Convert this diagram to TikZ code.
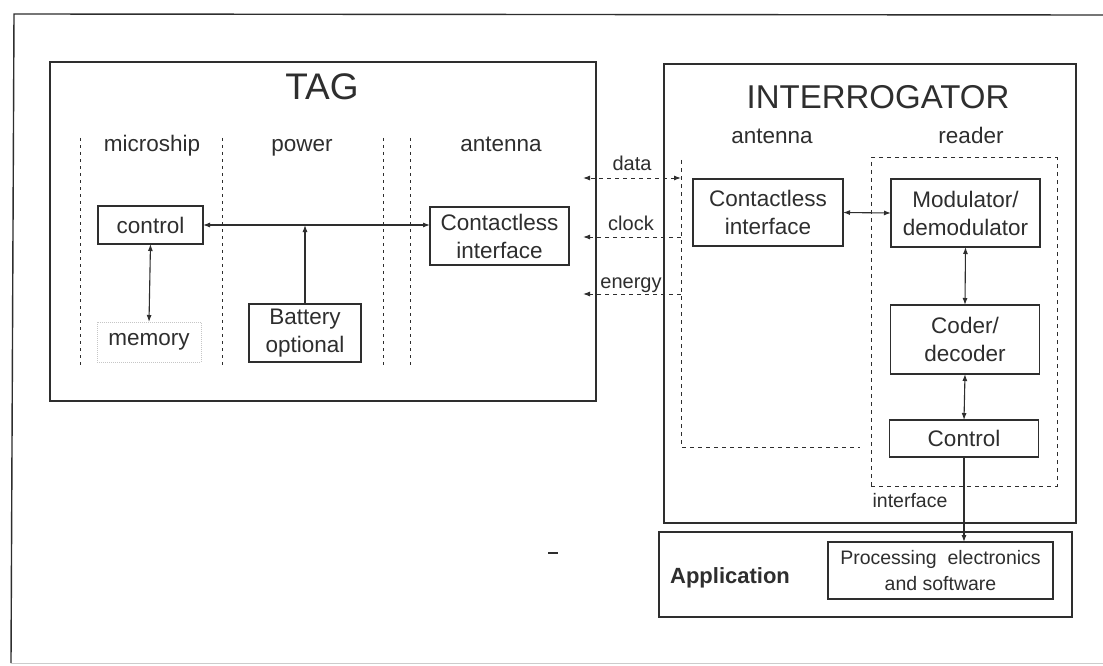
\documentclass[tikz,border=0pt]{standalone}
\usepackage{fontspec}
\setmainfont{Liberation Sans}
\usetikzlibrary{arrows.meta}
\definecolor{ink}{HTML}{2E2E2E}
\tikzset{
  frame/.style={draw=ink, line width=1.3pt, inner sep=0pt, outer sep=0pt},
  box/.style={draw=ink, line width=1.1pt, inner sep=0pt, outer sep=0pt, align=center,
    font=\fontsize{22.5}{28}\selectfont, text=ink},
  faintbox/.style={draw=gray!45, densely dotted, line width=1pt, inner sep=0pt, outer sep=0pt,
    align=center, font=\fontsize{22.5}{28}\selectfont, text=ink},
  lbl/.style={anchor=base, inner sep=0pt, text=ink, font=\fontsize{22.5}{27}\selectfont},
  small/.style={anchor=base, inner sep=0pt, text=ink, font=\fontsize{20}{24}\selectfont},
  sep/.style={draw=ink, line width=1pt, dash pattern=on 3pt off 4pt},
  dsh/.style={draw=ink, line width=1pt, dash pattern=on 4pt off 4pt},
  arr/.style={draw=ink, line width=1.1pt, -{Latex[length=7pt,width=5pt]}},
  darr/.style={draw=ink, line width=1.1pt, {Latex[length=7pt,width=5pt]}-{Latex[length=7pt,width=5pt]}},
}
\begin{document}
\begin{tikzpicture}[x=1pt,y=-1pt]
\useasboundingbox (0,0) rectangle (1103,666);
\fill[white] (0,0) rectangle (1103,666);
% outer frame
\coordinate (ftl) at (14,14);
\coordinate (ftr) at (1103,15);
\coordinate (fbl) at (11,663);
\coordinate (fbr) at (1103,663);
\draw[ink, line width=1.4pt] (fbl) -- (ftl) -- (ftr);
\draw[gray!40, line width=1pt] (fbl) -- (fbr);

% ===== TAG =====
\node[frame, minimum width=546pt, minimum height=339pt] (tag) at (323,231.5) {};
\node[anchor=base, inner sep=0pt, text=ink, font=\fontsize{37}{40}\selectfont] (tagt) at (322,100) {TAG};
\foreach \x [count=\i] in {80,222,383,410} {
  \coordinate (st\i) at (\x,138);
  \coordinate (sb\i) at (\x,367);
  \draw[sep] (st\i) -- (sb\i);
}
\node[lbl] (lmicro) at (152,151) {microship};
\node[lbl] (lpower) at (302,151) {power};
\node[lbl] (lant) at (501,151) {antenna};

\node[box, minimum width=105pt, minimum height=38pt] (control) at (150.5,225) {control};
\node[faintbox, minimum width=104pt, minimum height=40pt] (memory) at (149,342) {memory};
\node[box, minimum width=112pt, minimum height=58pt] (battery) at (305,333) {Battery\\optional};
\node[box, minimum width=139pt, minimum height=58pt] (tagci) at (499.5,236) {Contactless\\interface};

\draw[darr] (control.east) -- (control.east -| tagci.west);
\draw[arr] (battery.north) -- (battery.north |- control.east);
\draw[darr] (control.south) -- (memory.north);

% ===== INTERROGATOR =====
\node[frame, minimum width=412pt, minimum height=459pt] (intg) at (870,293.5) {};
\node[anchor=base, inner sep=0pt, text=ink, font=\fontsize{33}{36}\selectfont] (intt) at (878,109) {INTERROGATOR};
\node[lbl] (lant2) at (772,143) {antenna};
\node[lbl] (lread) at (971,143) {reader};

% antenna dashed L
\coordinate (at) at (681,160);
\coordinate (ab) at (681,447);
\coordinate (ae) at (860,447);
\draw[dsh] (at) -- (ab) -- (ae);

% reader dashed box
\node[dsh, minimum width=186pt, minimum height=328pt, inner sep=0pt, outer sep=0pt] (reader) at (964,322) {};

\node[box, minimum width=150pt, minimum height=67pt] (ici) at (768,212.5) {Contactless\\interface};
\node[box, minimum width=149pt, minimum height=68pt] (mod) at (965.5,213) {Modulator/\\demodulator};
\node[box, minimum width=149pt, minimum height=69pt] (coder) at (965,339.5) {Coder/\\decoder};
\node[box, minimum width=149pt, minimum height=37pt] (ctrl) at (964,438.5) {Control};

\draw[darr] (ici.east) -- (mod.west);
\draw[darr] (mod.south) -- (coder.north);
\draw[darr] (coder.south) -- (ctrl.north);

% dashed links
\coordinate (dL) at (583,178);
\coordinate (dR) at (681,178);
\coordinate (cL) at (583,237);
\coordinate (cR) at (681,237);
\coordinate (eL) at (583,294);
\coordinate (eR) at (681,294);
\draw[dsh, {Latex[length=7pt,width=5pt]}-{Latex[length=7pt,width=5pt]}] (dR) -- (dL);
\draw[dsh, -{Latex[length=7pt,width=5pt]}] (cR) -- (cL);
\draw[dsh, -{Latex[length=7pt,width=5pt]}] (eR) -- (eL);
\node[small] (ldata) at (632,171) {data};
\node[small] (lclock) at (631,230) {clock};
\node[small] (lenergy) at (631,288) {energy};

% ===== APPLICATION =====
\node[frame, minimum width=413pt, minimum height=85pt] (app) at (865.5,574.5) {};
\node[anchor=base, inner sep=0pt, text=ink, font=\bfseries\fontsize{22}{26}\selectfont] (appt) at (730,583) {Application};
\node[box, minimum width=225pt, minimum height=57pt, font=\fontsize{19.5}{26}\selectfont] (proc) at (940.5,570.5) {Processing\ \ electronics\\and software};
\draw[arr] (ctrl.south) -- (ctrl.south |- proc.north);
\node[small, font=\fontsize{19.5}{24}\selectfont] (lif) at (910,507) {interface};

% stray mark
\coordinate (m1) at (548,553);
\coordinate (m2) at (558,553);
\draw[ink, line width=1.2pt] (m1) -- (m2);
\end{tikzpicture}
\end{document}
